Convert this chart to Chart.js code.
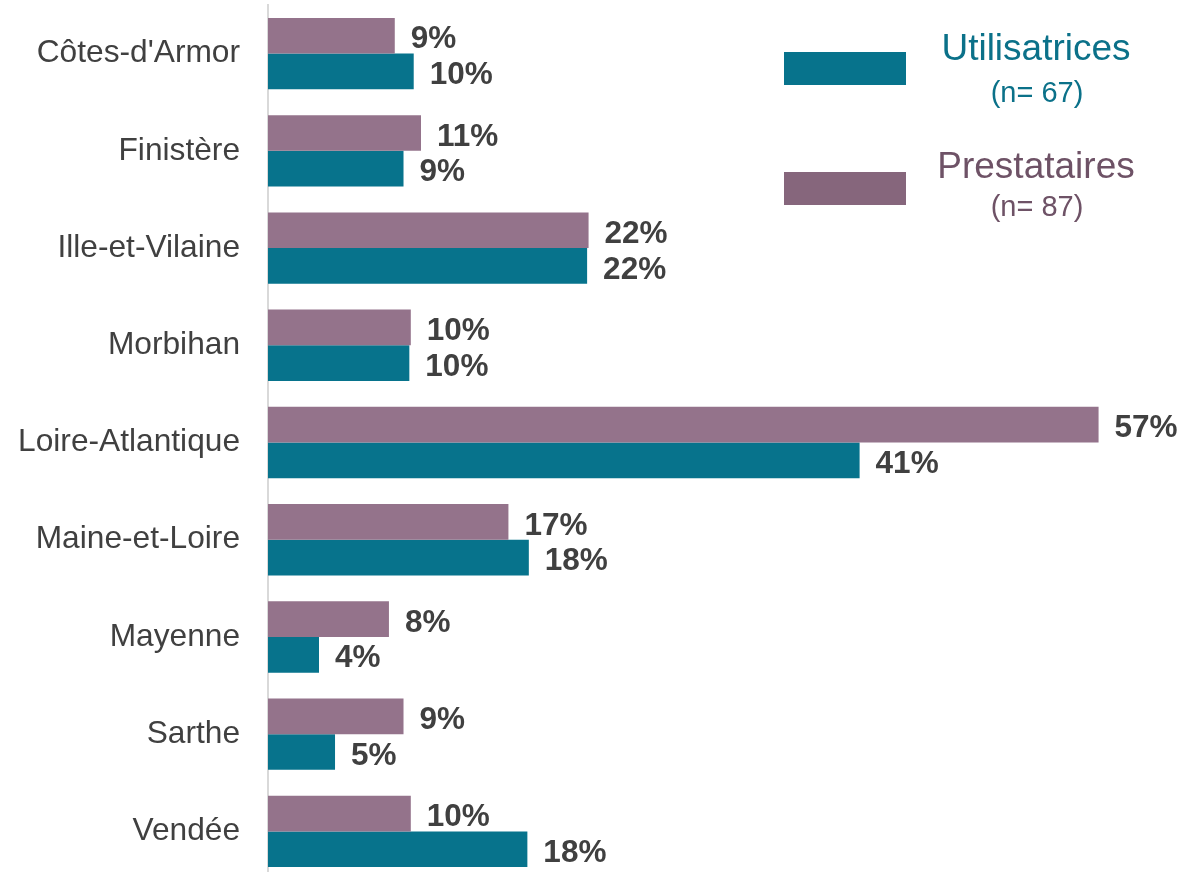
<!DOCTYPE html>
<html>
<head>
<meta charset="utf-8">
<script src="https://cdn.jsdelivr.net/npm/chart.js@4.4.0/dist/chart.umd.min.js"></script>
<style>
  html, body { margin: 0; padding: 0; background: #fff; overflow: hidden; }
  #wrap { position: relative; width: 1186px; height: 880px; }
</style>
</head>
<body>
<div id="wrap"><canvas id="chartDepartements"></canvas></div>
<script>
const departements = ['Côtes-d\'Armor', 'Finistère', 'Ille-et-Vilaine', 'Morbihan', 'Loire-Atlantique', 'Maine-et-Loire', 'Mayenne', 'Sarthe', 'Vendée'];
const prestataires = [8.7, 10.5, 22.0, 9.8, 57.0, 16.5, 8.3, 9.3, 9.8];
const utilisatrices = [10.0, 9.3, 21.9, 9.7, 40.6, 17.9, 3.5, 4.6, 17.8];
const seriesNames = ['Prestataires', 'Utilisatrices'];
const seriesN = ['(n= 87)', '(n= 67)'];

const FONT = '"Liberation Sans", Arial, sans-serif';

// etiquettes de valeur au bout des barres
const valueLabels = {
  id: 'valueLabels',
  afterDatasetsDraw(chart) {
    const ctx = chart.ctx;
    ctx.save();
    ctx.font = 'bold 31.5px ' + FONT;
    ctx.fillStyle = '#404040';
    ctx.textAlign = 'left';
    ctx.textBaseline = 'middle';
    chart.data.datasets.forEach((ds, i) => {
      chart.getDatasetMeta(i).data.forEach((bar, j) => {
        ctx.fillText(Math.round(ds.data[j]) + '%', bar.x + 16, bar.y + 4);
      });
    });
    ctx.restore();
  }
};

// legende en haut a droite
const customLegend = {
  id: 'customLegend',
  afterDraw(chart) {
    const ctx = chart.ctx;
    const items = [
      { ds: 1, rectY: 52, titleY: 50, nY: 94, text: '#0B7189', rect: '#07738C' },
      { ds: 0, rectY: 172, titleY: 168, nY: 208, text: '#6E5266', rect: '#86667C' }
    ];
    ctx.save();
    items.forEach((it) => {
      ctx.fillStyle = it.rect;
      ctx.fillRect(784, it.rectY, 122, 33);
      ctx.fillStyle = it.text;
      ctx.textAlign = 'center';
      ctx.textBaseline = 'middle';
      ctx.font = '37px ' + FONT;
      ctx.fillText(seriesNames[it.ds], 1036, it.titleY);
      ctx.font = '29px ' + FONT;
      ctx.fillText(seriesN[it.ds], 1037, it.nY);
    });
    ctx.restore();
  }
};

new Chart(document.getElementById('chartDepartements'), {
  type: 'bar',
  data: {
    labels: departements,
    datasets: [
      {
        label: seriesNames[0],
        data: prestataires,
        backgroundColor: '#94738B',
        borderWidth: 0,
      },
      {
        label: seriesNames[1],
        data: utilisatrices,
        backgroundColor: '#07738C',
        borderWidth: 0,
      },
    ],
  },
  options: {
    indexAxis: 'y',
    responsive: true,
    maintainAspectRatio: false,
    animation: false,
    layout: { padding: { top: 5, bottom: 0, left: 0, right: 0 } },
    datasets: {
      bar: { categoryPercentage: 0.734, barPercentage: 1 },
    },
    plugins: {
      legend: { display: false },
      tooltip: { enabled: false },
    },
    scales: {
      x: {
        display: false,
        min: 0,
        max: 63,
      },
      y: {
        grid: { display: false, drawTicks: false },
        border: { display: true, color: '#d9d9d9', width: 2 },
        ticks: {
          color: '#404040',
          padding: 28,
          font: { family: FONT, size: 31.7 },
        },
        afterFit(scale) {
          scale.width = 268;
          scale.paddingTop = 0;
          scale.paddingBottom = 0;
        },
      },
    },
  },
  plugins: [valueLabels, customLegend],
});
</script>
</body>
</html>
